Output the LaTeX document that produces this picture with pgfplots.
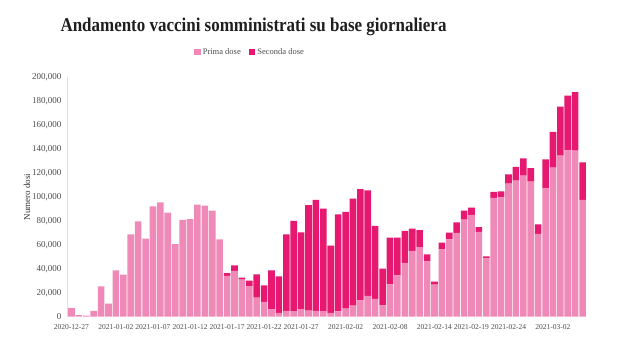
\documentclass[border=0pt]{standalone}
\usepackage{fontspec}
\setmainfont{Liberation Serif}
\usepackage{pgfplots}
\usepackage{pgfplotstable}
\pgfplotsset{compat=1.18}
\definecolor{prima}{HTML}{EF8AB8}
\definecolor{seconda}{HTML}{E6186F}

\pgfplotstableread{
i prima seconda
0 7300 0
1 1400 0
2 1000 0
3 4800 0
4 25400 0
5 10900 0
6 38800 0
7 35100 0
8 68800 0
9 79700 0
10 65200 0
11 92200 0
12 95600 0
13 86900 0
14 60700 0
15 80800 0
16 81600 0
17 93600 0
18 92700 0
19 88600 0
20 64600 0
21 34000 2500
22 38200 4700
23 30900 1700
24 25600 4500
25 15900 19500
26 12300 13900
27 6200 32500
28 3100 30600
29 4800 64000
30 4600 75400
31 6400 64100
32 5000 88300
33 4800 92700
34 4600 85600
35 3100 56200
36 4500 81000
37 6700 80800
38 9200 89400
39 13700 92800
40 17300 88200
41 14800 61000
42 9500 30600
43 27100 38900
44 34600 31400
45 44900 26700
46 54900 18600
47 58200 14200
48 46300 5800
49 26700 2500
50 56300 5500
51 64700 5500
52 70000 8900
53 81100 7500
54 85000 6100
55 70800 4100
56 48800 1600
57 99200 5000
58 99700 5100
59 111100 7900
60 113600 11500
61 117800 14500
62 112800 11400
63 69100 8100
64 107300 24200
65 124500 29800
66 134500 40900
67 139000 45600
68 138700 49000
69 97500 31500
}\data

\begin{document}
\begin{tikzpicture}
\path[use as bounding box] (0pt,0pt) rectangle (620pt,347pt);
\node[font=\fontsize{19.5}{19.5}\selectfont\bfseries, text=black!88, anchor=center] at (253.5pt,320pt) {\scalebox{0.87}[1]{Andamento vaccini somministrati su base giornaliera}};
\begin{axis}[
  at={(67pt,30.3pt)}, anchor=south west,
  scale only axis, width=523pt, height=239.4pt,
  xmin=-0.607, xmax=70, ymin=0, ymax=200000,
  ybar stacked, bar width=6.6pt,
  axis lines*=left,
  axis line style={draw=black!12},
  x axis line style={draw=none},
  major tick length=0pt,
  tick style={draw=none},
  scaled y ticks=false,
  ytick={0,20000,40000,60000,80000,100000,120000,140000,160000,180000,200000},
  yticklabels={0,{20,000},{40,000},{60,000},{80,000},{100,000},{120,000},{140,000},{160,000},{180,000},{200,000}},
  yticklabel style={font=\fontsize{9}{9}\selectfont, text=black!70, xshift=-2pt},
  xtick={0,6,11,16,21,26,31,37,43,49,54,59,65},
  xticklabels={2020-12-27,2021-01-02,2021-01-07,2021-01-12,2021-01-17,2021-01-22,2021-01-27,2021-02-02,2021-02-08,2021-02-14,2021-02-19,2021-02-24,2021-03-02},
  xticklabel style={font=\fontsize{7.5}{7.5}\selectfont, text=black!70, yshift=-4.5pt},
  ylabel={Numero dosi},
  ylabel style={font=\fontsize{9}{9}\selectfont, text=black!80, at={(axis description cs:-0.0765,0.5)}, anchor=center},
  legend columns=2,
  legend style={draw=none, at={(0.35,1.106)}, anchor=center, font=\fontsize{8.5}{8.5}\selectfont, text=black!70, /tikz/every even column/.append style={column sep=6pt}},
  legend image code/.code={\path[#1,draw=none] (0pt,-3.3pt) rectangle (6.6pt,3.3pt);},
]
\addplot[fill=prima, draw=none] table[x=i, y=prima] {\data};
\addplot[fill=seconda, draw=none] table[x=i, y=seconda] {\data};
\legend{Prima dose, Seconda dose}
\end{axis}
\end{tikzpicture}
\end{document}
